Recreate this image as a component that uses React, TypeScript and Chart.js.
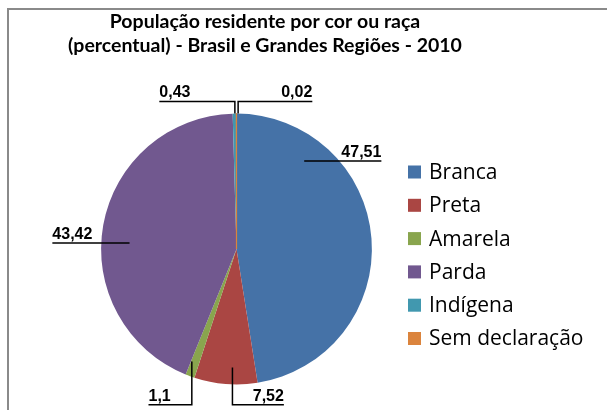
import React, { useEffect, useRef } from "react";
import { Chart, registerables } from "chart.js";

Chart.register(...registerables);

const titleLines = ["População residente por cor ou raça", "(percentual) - Brasil e Grandes Regiões - 2010"];
const categories = ["Branca", "Preta", "Amarela", "Parda", "Indígena", "Sem declaração"];
const values = [47.51, 7.52, 1.1, 43.42, 0.43, 0.02];
const valueLabels = ["47,51", "7,52", "1,1", "43,42", "0,43", "0,02"];
const colors = ["#4572A7", "#AA4643", "#89A54E", "#71588F", "#4198AF", "#DB843D"];

// label leader layout (in radius units relative to pie centre)
type Lay = { sx: number; sy: number; ey?: number; ex: number; align: "left" | "right" };
const labelLayout: Lay[] = [
  { sx: 0.5, sy: -0.65, ex: 1.07, align: "right" },
  { sx: -0.03, sy: 0.875, ey: 1.15, ex: 0.35, align: "right" },
  { sx: -0.33, sy: 0.83, ey: 1.15, ex: -0.65, align: "left" },
  { sx: -0.79, sy: -0.045, ex: -1.36, align: "left" },
  { sx: -0.012, sy: -1.0, ey: -1.09, ex: -0.57, align: "left" },
  { sx: 0.012, sy: -1.0, ey: -1.09, ex: 0.56, align: "right" },
];

const decorPlugin = {
  id: "decor",
  beforeDraw(chart: any) {
    const ctx = chart.ctx;
    ctx.save();
    ctx.fillStyle = "#ffffff";
    ctx.fillRect(0, 0, chart.width, chart.height);
    ctx.strokeStyle = "#8a8a8a";
    ctx.lineWidth = 2;
    ctx.strokeRect(8, 9, 700, 500);
    ctx.restore();
  },
  afterDraw(chart: any) {
    const ctx = chart.ctx;
    ctx.save();
    // title
    ctx.fillStyle = "#000";
    ctx.font = "bold 19.5px Lato";
    ctx.textAlign = "center";
    ctx.textBaseline = "middle";
    ctx.fillText(titleLines[0], 265, 22);
    ctx.fillText(titleLines[1], 265, 46);

    // legend
    ctx.textAlign = "left";
    ctx.font = "21px 'Open Sans'";
    categories.forEach((c, i) => {
      const y = 172 + i * 33.3;
      ctx.fillStyle = colors[i];
      ctx.fillRect(408, y - 6.5, 13, 13);
      ctx.fillStyle = "#000";
      ctx.fillText(c, 429, y + 1);
    });

    // data labels
    const meta = chart.getDatasetMeta(0);
    const arc0 = meta.data[0];
    const cx = arc0.x, cy = arc0.y, r = arc0.outerRadius;
    ctx.strokeStyle = "#000";
    ctx.lineWidth = 1.5;
    ctx.font = "bold 16px 'Liberation Sans'";
    ctx.textBaseline = "alphabetic";
    labelLayout.forEach((l, i) => {
      const sx = cx + l.sx * r, sy = cy + l.sy * r;
      const ex = cx + l.ex * r;
      ctx.beginPath();
      ctx.moveTo(sx, sy);
      let ly = sy;
      if (l.ey !== undefined) {
        ly = cy + l.ey * r;
        ctx.lineTo(sx, ly);
      }
      ctx.lineTo(ex, ly);
      ctx.stroke();
      ctx.fillStyle = "#000";
      ctx.textAlign = l.align;
      ctx.fillText(valueLabels[i], ex, ly - 4);
    });
    ctx.restore();
  },
};

export default function App() {
  const ref = useRef<HTMLCanvasElement>(null);
  useEffect(() => {
    document.body.style.margin = "0";
    const chart = new Chart(ref.current!, {
      type: "pie",
      data: {
        labels: categories,
        datasets: [
          {
            data: values,
            backgroundColor: colors,
            borderColor: colors,
            borderWidth: [0, 0, 0, 0, 0, 1.2],
          },
        ],
      },
      options: {
        animation: false,
        responsive: false,
        layout: { padding: { top: 113, bottom: 25, left: 100, right: 234 } },
        plugins: { legend: { display: false }, title: { display: false }, tooltip: { enabled: false } },
      },
      plugins: [decorPlugin],
    });
    return () => chart.destroy();
  }, []);
  return <canvas ref={ref} width={607} height={410} style={{ display: "block" }} />;
}
